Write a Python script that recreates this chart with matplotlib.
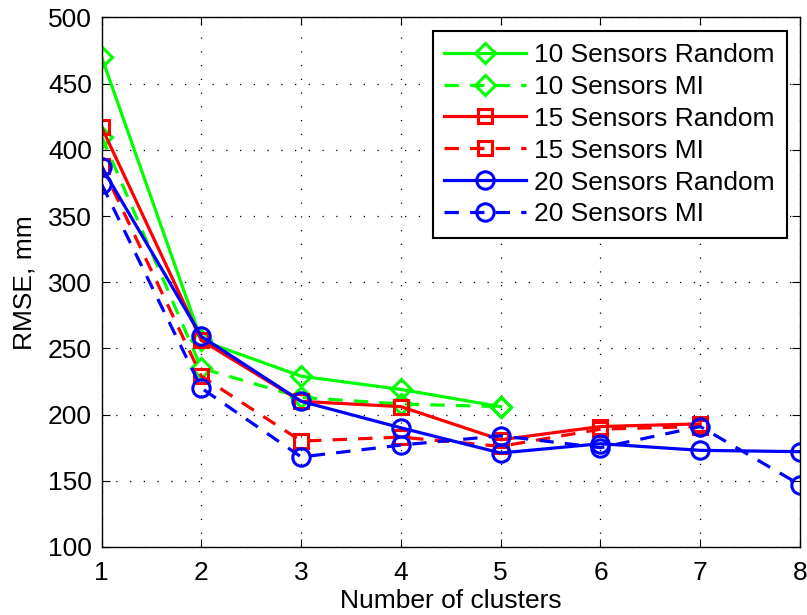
import numpy as np
from matplotlib import pyplot as plt

plt.rcParams['font.family'] = ['Liberation Sans', 'DejaVu Sans']

clusters = [1, 2, 3, 4, 5, 6, 7, 8]

# RMSE values (mm)
s10_random = [470, 256, 229, 219, 206]
s10_mi = [410, 235, 213, 208, 206]
s15_random = [417, 256, 210, 206, 181, 191, 193]
s15_mi = [388, 229, 180, 183, 176, 189, 191]
s20_random = [387, 259, 210, 190, 171, 178, 173, 172]
s20_mi = [374, 220, 168, 177, 184, 175, 191, 147]

series = [
    ("10 Sensors Random", s10_random, '#00ff00', '-', 'D', 10.5),
    ("10 Sensors MI", s10_mi, '#00ff00', '--', 'D', 10.5),
    ("15 Sensors Random", s15_random, '#ff0000', '-', 's', 10),
    ("15 Sensors MI", s15_mi, '#ff0000', '--', 's', 10),
    ("20 Sensors Random", s20_random, '#0000ff', '-', 'o', 12.5),
    ("20 Sensors MI", s20_mi, '#0000ff', '--', 'o', 12.5),
]

if __name__ == "__main__":
    fig = plt.figure(figsize=(8.07, 6.15), dpi=100)
    ax = fig.add_axes([0.126, 0.1106, 0.8653, 0.861])

    for label, vals, col, ls, mk, ms in series:
        x = clusters[:len(vals)]
        line, = ax.plot(x, vals, color=col, linestyle=ls, marker=mk, markersize=ms,
                        markerfacecolor='none', markeredgecolor=col, markeredgewidth=2.2,
                        linewidth=2.3, label=label)
        if ls == '--':
            line.set_dashes((4.5, 3.5))

    ax.set_xlim(1, 8)
    ax.set_ylim(100, 500)
    ax.set_xticks(clusters)
    ax.set_yticks(np.arange(100, 501, 50))
    ax.grid(True, color='black', linestyle=(0, (1, 10)), linewidth=0.9)
    ax.tick_params(direction='in', top=True, right=True, labelsize=19, length=6)
    ax.tick_params(axis='x', pad=10)
    ax.tick_params(axis='y', pad=7)
    for s in ax.spines.values():
        s.set_linewidth(1.0)

    ax.set_xlabel("Number of clusters", fontsize=19, labelpad=3)
    ax.set_ylabel("RMSE, mm", fontsize=19, labelpad=8)

    leg = ax.legend(loc='upper right', bbox_to_anchor=(0.981, 0.9745), fontsize=19,
                    frameon=True, fancybox=False, edgecolor='black', framealpha=1,
                    handlelength=3.1, handletextpad=0.3, borderpad=0.45, labelspacing=0.3,
                    borderaxespad=0)
    leg.get_frame().set_linewidth(1.5)

    plt.savefig('out.png', dpi=100)
